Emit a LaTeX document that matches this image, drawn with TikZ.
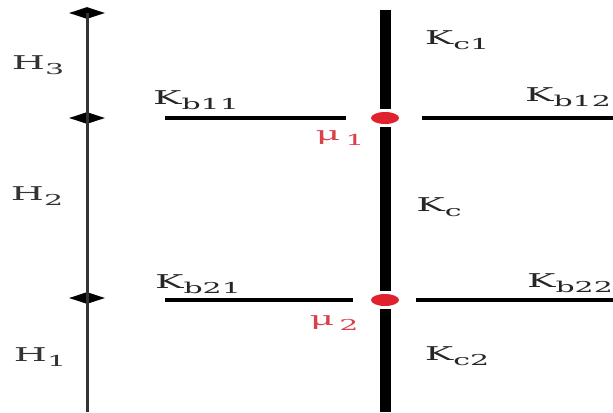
\documentclass[tikz,border=0pt]{standalone}
\usepackage{fontspec}
\setmainfont{DejaVu Serif}
\usepackage{graphicx}
\usetikzlibrary{positioning,shapes.geometric}

\definecolor{knotred}{HTML}{E0222E}
\definecolor{labred}{HTML}{D8404A}
\definecolor{axisgray}{HTML}{333333}
\newcommand{\widelab}[2]{\scalebox{2}[1]{#1\raisebox{-0.45ex}{\fontsize{7.5}{9}\selectfont#2}}}

\begin{document}
\begin{tikzpicture}[
  x=0.5pt, y=-0.5pt,
  every node/.style={font=\fontsize{9.5}{11}\selectfont},
  column/.style={line width=5.5pt,black},
  branch/.style={line width=2pt,black},
  axisline/.style={line width=1.5pt,axisgray},
  tick/.style={diamond,aspect=2.8,fill=black,inner sep=0pt,minimum width=18pt,minimum height=6pt},
  joint/.style={ellipse,fill=knotred,inner sep=0pt,minimum width=14pt,minimum height=6pt,outer sep=1.5pt},
  klab/.style={text=black!85},
  hlab/.style={text=axisgray},
  mulab/.style={text=labred}
]
\useasboundingbox (0,0) rectangle (613,412);

% main column and joints
\coordinate (ctop) at (385,10);
\coordinate (cbot) at (385,412);
\node[joint] (mu1) at (385,118) {};
\node[joint] (mu2) at (385,300) {};
\draw[column] (ctop) -- (mu1);
\draw[column] (mu1) -- (mu2);
\draw[column] (mu2) -- (cbot);

% beams
\coordinate (b11) at (165,118);
\coordinate (b12) at (613,118);
\coordinate (b21) at (165,300);
\coordinate (b22) at (613,300);
\draw[branch,shorten >=11pt] (b11) -- (mu1);
\draw[branch,shorten >=10pt] (b12) -- (mu1);
\draw[branch,shorten >=7.5pt] (b21) -- (mu2);
\draw[branch,shorten >=7pt] (b22) -- (mu2);

% height axis
\node[tick] (h3) at (87,13) {};
\node[tick] (h2) at (87,118) {};
\node[tick] (h1) at (87,298) {};
\coordinate (hbot) at (87,412);
\draw[axisline] (h3.center) -- (h2.center) -- (h1.center) -- (hbot);

% labels
\node[hlab] (lH3) at (38,65) {\widelab{H}{3}};
\node[hlab] (lH2) at (37,196) {\widelab{H}{2}};
\node[hlab] (lH1) at (40,357) {\widelab{H}{1}};
\node[klab] (lKc1) at (457,40) {\widelab{K}{c1}};
\node[klab] (lKb11) at (196,100) {\widelab{K}{b11}};
\node[klab] (lKb12) at (568,97) {\widelab{K}{b12}};
\node[klab] (lKc) at (439,207) {\widelab{K}{c}};
\node[klab] (lKb21) at (198,284) {\widelab{K}{b21}};
\node[klab] (lKb22) at (570,283) {\widelab{K}{b22}};
\node[klab] (lKc2) at (457,356) {\widelab{K}{c2}};
\node[mulab] (lmu1) at (340,138) {\widelab{μ}{\,1}};
\node[mulab] (lmu2) at (334,323) {\widelab{μ}{\,2}};
\end{tikzpicture}
\end{document}
